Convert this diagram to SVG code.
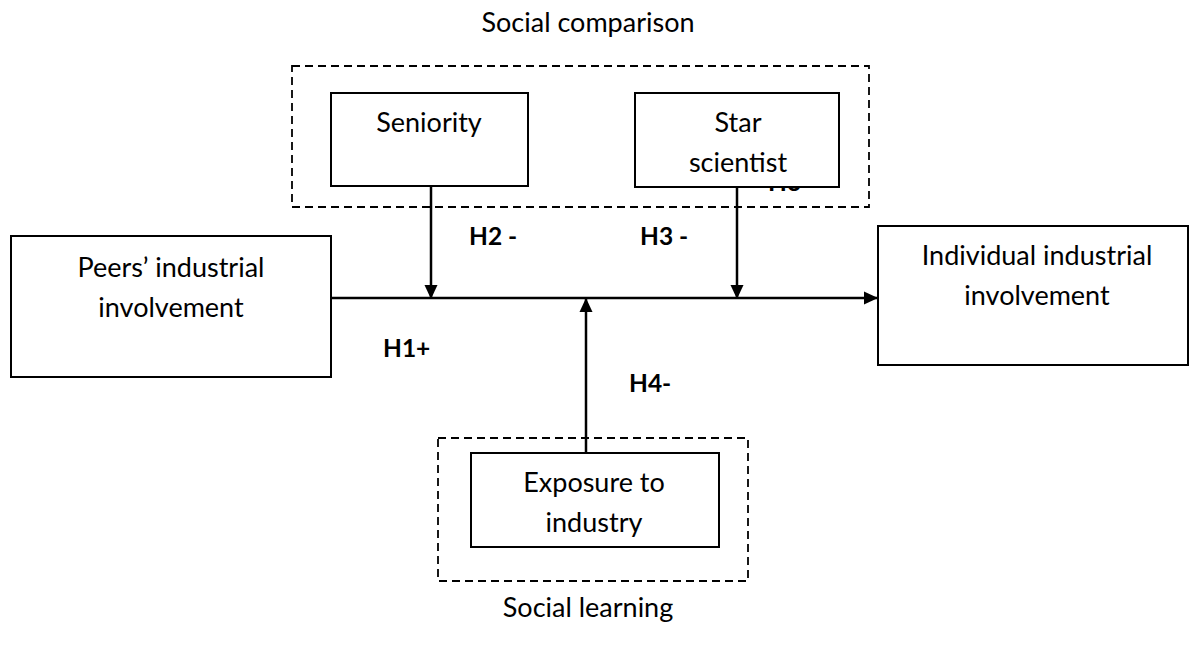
<svg xmlns="http://www.w3.org/2000/svg" width="1190" height="656" viewBox="0 0 1190 656">
<style>
.box{fill:#fff;stroke:#000;stroke-width:2}
.dash{fill:none;stroke:#000;stroke-width:1.8;stroke-dasharray:8 5}
.t{font-family:Lato,"Liberation Sans",sans-serif;font-size:27px;fill:#000;text-anchor:middle}
.b{font-family:Lato,"Liberation Sans",sans-serif;font-size:24.5px;font-weight:bold;fill:#000}
.ln{stroke:#000;stroke-width:2.5;fill:none}
</style>
<defs>
<marker id="ah" markerWidth="14" markerHeight="14" viewBox="0 0 14 14" refX="13" refY="7" orient="auto" markerUnits="userSpaceOnUse">
<path d="M0,0.5 L14,7 L0,13.5 z" fill="#000"/>
</marker>
</defs>
<rect width="1190" height="656" fill="#fff"/>
<g id="social-comparison">
<rect class="dash" x="292" y="66" width="577" height="141"/>
<text class="t" x="588" y="32">Social comparison</text>
</g>
<g id="h3-hidden">
<text class="b" x="768" y="191">H3</text>
</g>
<g id="seniority">
<rect class="box" x="331" y="93" width="197" height="93"/>
<text class="t" x="429" y="132">Seniority</text>
</g>
<g id="star-scientist">
<rect class="box" x="635" y="93" width="204" height="94"/>
<text class="t" x="738" y="132">Star</text>
<text class="t" x="738" y="172">scientist</text>
</g>
<g id="peers">
<rect class="box" x="11" y="236" width="320" height="141"/>
<text class="t" x="171" y="277">Peers’ industrial</text>
<text class="t" x="171" y="317">involvement</text>
</g>
<g id="individual">
<rect class="box" x="878" y="226" width="310" height="139"/>
<text class="t" x="1037" y="265">Individual industrial</text>
<text class="t" x="1037" y="305">involvement</text>
</g>
<g id="social-learning">
<rect class="dash" x="438" y="438" width="310" height="143"/>
<text class="t" x="588" y="617">Social learning</text>
</g>
<g id="exposure">
<rect class="box" x="471" y="453" width="248" height="94"/>
<text class="t" x="594" y="492">Exposure to</text>
<text class="t" x="594" y="532">industry</text>
</g>
<g id="connectors">
<line class="ln" x1="331" y1="298" x2="877" y2="298" marker-end="url(#ah)"/>
<line class="ln" x1="431" y1="187" x2="431" y2="298" marker-end="url(#ah)"/>
<line class="ln" x1="737" y1="188" x2="737" y2="298" marker-end="url(#ah)"/>
<line class="ln" x1="586" y1="452" x2="586" y2="299" marker-end="url(#ah)"/>
</g>
<g id="labels">
<text class="b" x="469" y="245">H2 -</text>
<text class="b" x="640" y="245">H3 -</text>
<text class="b" x="383" y="357">H1+</text>
<text class="b" x="629" y="392">H4-</text>
</g>
</svg>
